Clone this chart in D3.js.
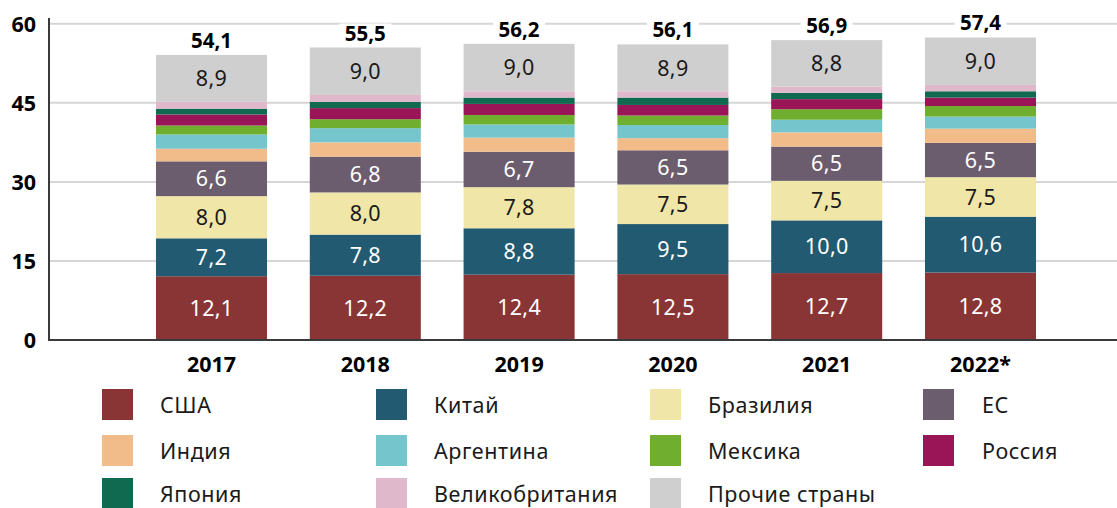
<!DOCTYPE html>
<html>
<head>
<meta charset="utf-8">
<script src="https://cdn.jsdelivr.net/npm/d3@7"></script>
<style>
  html, body { margin: 0; padding: 0; background: #fff; }
  svg { display: block; font-family: "Noto Sans", "Open Sans", sans-serif; }
</style>
</head>
<body>
<svg id="chart" width="1117" height="508"></svg>
<script>
const years = ["2017", "2018", "2019", "2020", "2021", "2022*"];
const usa       = [12.1, 12.2, 12.4, 12.5, 12.7, 12.8];
const china     = [7.2, 7.8, 8.8, 9.5, 10.0, 10.6];
const brazil    = [8.0, 8.0, 7.8, 7.5, 7.5, 7.5];
const eu        = [6.6, 6.8, 6.7, 6.5, 6.5, 6.5];
const india     = [2.4, 2.7, 2.7, 2.3, 2.7, 2.7];
const argentina = [2.7, 2.7, 2.5, 2.5, 2.4, 2.3];
const mexico    = [1.7, 1.7, 1.8, 1.8, 2.0, 2.0];
const russia    = [2.1, 2.1, 2.1, 2.0, 1.9, 1.6];
const japan     = [1.1, 1.2, 1.2, 1.4, 1.2, 1.2];
const uk        = [1.3, 1.3, 1.2, 1.2, 1.2, 1.2];
const others    = [8.9, 9.0, 9.0, 8.9, 8.8, 9.0];
const totals    = [54.1, 55.5, 56.2, 56.1, 56.9, 57.4];
const yTicks    = [0, 15, 30, 45, 60];

const seriesNames = ["США", "Китай", "Бразилия", "ЕС", "Индия", "Аргентина", "Мексика", "Россия", "Япония", "Великобритания", "Прочие страны"];
const seriesValues = [usa, china, brazil, eu, india, argentina, mexico, russia, japan, uk, others];
const seriesColors = ["#8a3535", "#225a72", "#f0e6a8", "#6b5d6e", "#f2bc8a", "#74c6cc", "#6fae2e", "#9a1458", "#106a50", "#e0b8cb", "#cfcfcf"];
const labelled = {"США": "#ffffff", "Китай": "#ffffff", "Бразилия": "#1a1a1a", "ЕС": "#ffffff", "Прочие страны": "#1a1a1a"};

const svg = d3.select("#chart");
const fmt = v => d3.format(".1f")(v).replace(".", ",");

const x = d3.scaleBand().domain(years).range([134.6, 1057.4]).paddingInner(0.278).paddingOuter(0.139);
const y = d3.scaleLinear().domain([0, 61.1]).range([340, 18]);

// gridlines
svg.append("g").selectAll("line").data(yTicks.filter(t => t > 0)).join("line")
  .attr("x1", 49).attr("x2", 1117)
  .attr("y1", d => y(d)).attr("y2", d => y(d))
  .attr("stroke", "#d6d6d6").attr("stroke-width", 2);

// stacked data
const rows = years.map((yr, i) => {
  const o = {year: yr};
  seriesNames.forEach((n, k) => o[n] = seriesValues[k][i]);
  return o;
});
const stack = d3.stack().keys(seriesNames)(rows);

const layers = svg.append("g").selectAll("g").data(stack).join("g")
  .attr("fill", (d, k) => seriesColors[k]);
layers.selectAll("rect").data(d => d).join("rect")
  .attr("x", d => x(d.data.year))
  .attr("width", x.bandwidth())
  .attr("y", d => y(d[1]))
  .attr("height", d => y(d[0]) - y(d[1]));

// segment labels
stack.forEach(layer => {
  const name = layer.key;
  if (!(name in labelled)) return;
  svg.append("g").selectAll("text").data(layer).join("text")
    .attr("x", d => x(d.data.year) + x.bandwidth() / 2)
    .attr("y", d => (y(d[0]) + y(d[1])) / 2)
    .attr("dy", "0.36em")
    .attr("text-anchor", "middle")
    .attr("font-size", 21.5)
    .attr("letter-spacing", 0.3)
    .attr("fill", labelled[name])
    .text(d => fmt(d.data[name]));
});

// total labels with white background
const tot = svg.append("g").selectAll("g").data(years).join("g");
tot.append("rect")
  .attr("x", d => x(d) + x.bandwidth() / 2 - 26)
  .attr("width", 52)
  .attr("y", (d, i) => y(totals[i]) - 24)
  .attr("height", 17)
  .attr("fill", "#fff");
tot.append("text")
  .attr("x", d => x(d) + x.bandwidth() / 2)
  .attr("y", (d, i) => y(totals[i]) - 7)
  .attr("text-anchor", "middle")
  .attr("font-size", 20.5).attr("font-weight", 700).attr("fill", "#000")
  .text((d, i) => fmt(totals[i]));

// axes lines
svg.append("line").attr("x1", 49).attr("x2", 49).attr("y1", 18).attr("y2", y(0))
  .attr("stroke", "#3a3a3a").attr("stroke-width", 2);
svg.append("line").attr("x1", 48).attr("x2", 1117).attr("y1", y(0)).attr("y2", y(0))
  .attr("stroke", "#3a3a3a").attr("stroke-width", 2);

// y tick labels
svg.append("g").selectAll("text").data(yTicks).join("text")
  .attr("x", 36).attr("y", d => y(d)).attr("dy", "0.36em")
  .attr("text-anchor", "end").attr("font-size", 21.5).attr("font-weight", 700).attr("fill", "#000")
  .text(d => d);

// x labels
svg.append("g").selectAll("text").data(years).join("text")
  .attr("x", d => x(d) + x.bandwidth() / 2).attr("y", 364).attr("dy", "0.36em")
  .attr("text-anchor", "middle").attr("font-size", 21.5).attr("font-weight", 700).attr("fill", "#000")
  .text(d => d);

// legend
const colX = [102, 376, 650, 923];
const textX = [160, 434, 708, 982];
const rowY = [389, 435, 478];
const leg = svg.append("g").selectAll("g").data(seriesNames).join("g");
leg.append("rect")
  .attr("x", (d, i) => colX[i % 4]).attr("y", (d, i) => rowY[Math.floor(i / 4)])
  .attr("width", 31).attr("height", 31)
  .attr("fill", (d, i) => seriesColors[i]);
leg.append("text")
  .attr("x", (d, i) => textX[i % 4]).attr("y", (d, i) => rowY[Math.floor(i / 4)] + 16)
  .attr("dy", "0.36em")
  .attr("font-size", 21.5).attr("letter-spacing", 0.6).attr("fill", "#1a1a1a")
  .text(d => d);
</script>
</body>
</html>
